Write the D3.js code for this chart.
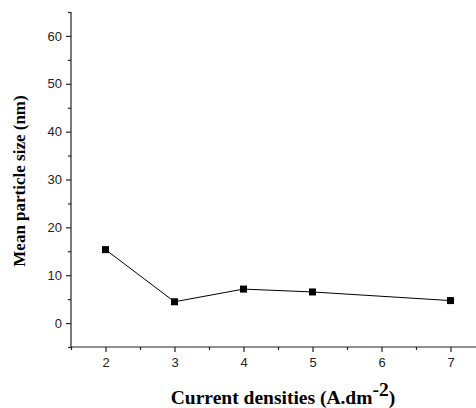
<!DOCTYPE html>
<html>
<head>
<meta charset="utf-8">
<script src="https://cdn.jsdelivr.net/npm/d3@7"></script>
<style>
  body { margin: 0; background: #fff; }
  svg { display: block; }
  .tick text { font-family: "Liberation Sans", Arial, sans-serif; font-size: 13px; fill: #222; }
  .title { font-family: "Liberation Serif", "Times New Roman", serif; font-weight: bold; fill: #000; }
</style>
</head>
<body>
<svg id="chart" width="476" height="408"></svg>
<script>
const densities = [2, 3, 4, 5, 7];
const particleSize = [15.35, 4.45, 7.1, 6.5, 4.7];
const xTicks = [2, 3, 4, 5, 6, 7];
const yTicks = [0, 10, 20, 30, 40, 50, 60];

const width = 476,
  height = 408;
const plotLeft = 71,
  plotTop = 12,
  plotBottom = 347;

const svg = d3.select("#chart");

const x = d3.scaleLinear().domain([1.5, 7.5]).range([plotLeft, plotLeft + 6 * 69]);
const y = d3.scaleLinear().domain([-5, 65]).range([plotBottom, plotTop]);

// minor ticks first, then major ones with labels
svg.append("g")
  .attr("transform", `translate(0,${plotBottom})`)
  .call(d3.axisBottom(x).tickValues(d3.range(1.5, 7.6, 1)).tickSize(3).tickFormat(""))
  .call(g => g.select(".domain").remove());

svg.append("g")
  .attr("transform", `translate(0,${plotBottom})`)
  .call(d3.axisBottom(x).tickValues(xTicks).tickSize(5).tickPadding(6).tickFormat(d3.format("d")))
  .call(g => g.select(".domain").attr("d", `M${plotLeft},0H${width}`));

svg.append("g")
  .attr("transform", `translate(${plotLeft},0)`)
  .call(d3.axisLeft(y).tickValues(d3.range(-5, 66, 10)).tickSize(3).tickFormat(""))
  .call(g => g.select(".domain").remove());

svg.append("g")
  .attr("transform", `translate(${plotLeft},0)`)
  .call(d3.axisLeft(y).tickValues(yTicks).tickSize(5).tickPadding(4).tickFormat(d3.format("d")))
  .call(g => g.select(".domain").attr("d", `M0,${plotTop}V${plotBottom}`));

svg.selectAll(".domain, .tick line").attr("stroke", "#222").attr("stroke-width", 1.2);

const line = d3.line()
  .x((d, i) => x(densities[i]))
  .y(d => y(d));

svg.append("path")
  .datum(particleSize)
  .attr("d", line)
  .attr("fill", "none")
  .attr("stroke", "#000")
  .attr("stroke-width", 1);

svg.selectAll(".pt")
  .data(particleSize)
  .enter()
  .append("rect")
  .attr("class", "pt")
  .attr("x", (d, i) => x(densities[i]) - 3.5)
  .attr("y", d => y(d) - 3.5)
  .attr("width", 7)
  .attr("height", 7)
  .attr("fill", "#000");

const xt = svg.append("text")
  .attr("class", "title")
  .attr("x", 283)
  .attr("y", 404)
  .attr("font-size", 19.5)
  .attr("text-anchor", "middle");
xt.append("tspan").text("Current densities (A.dm");
xt.append("tspan").attr("dy", -8).text("-2");
xt.append("tspan").attr("dy", 8).text(")");

svg.append("text")
  .attr("class", "title")
  .attr("font-size", 17)
  .attr("transform", "translate(25,181) rotate(-90)")
  .attr("text-anchor", "middle")
  .text("Mean particle size (nm)");
</script>
</body>
</html>
